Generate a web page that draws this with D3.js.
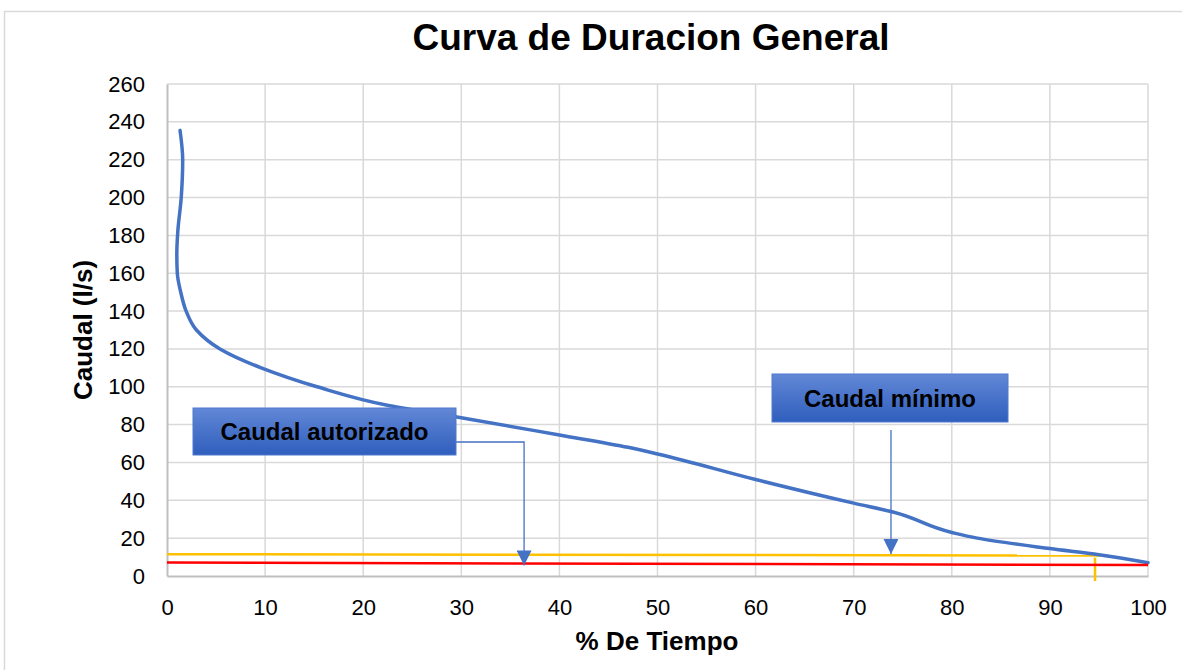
<!DOCTYPE html>
<html>
<head>
<meta charset="utf-8">
<script src="https://cdn.jsdelivr.net/npm/d3@7"></script>
<style>
  body { margin: 0; background: #fff; }
  svg { font-family: Arial, "Liberation Sans", sans-serif; }
</style>
</head>
<body>
<svg id="chart"></svg>
<script>
// data
let flowPct = [1.33, 1.6, 1.45, 1.1, 1.0, 1.05, 1.4, 1.95, 3.0, 5.4, 9.6, 15.3, 22.7, 29.4, 40, 47, 50, 60, 70, 74, 80, 82.6, 90, 95, 100]
let flowQ   = [235.5, 220, 200, 182, 170, 160, 150, 140, 130, 120, 110, 100, 90, 84.2, 74.5, 68, 64.5, 51, 38.5, 33.8, 23, 20, 14.5, 11.2, 7]
let q95Line = [[0, 11.5], [95.1, 10.8]]      // yellow
let authLine = [[0, 7.1], [100, 5.8]]        // red
let q95Mark = 94.6
let xTicks = d3.range(0, 101, 10)
let yTicks = d3.range(0, 261, 20)
let notes = [
  { text: 'Caudal autorizado', target: [36.4, 5.6], box: [193, 408, 263, 47], elbow: true },
  { text: 'Caudal mínimo', target: [73.8, 11.6], box: [772, 374, 236, 48], elbow: false }
]

let svgWidth = 1182, svgHeight = 670
let margin = { left: 167, right: 34, top: 84, bottom: 94 }
let w = svgWidth - margin.left - margin.right, h = svgHeight - margin.top - margin.bottom

let svg = d3.select('#chart').attr('width', svgWidth).attr('height', svgHeight)

// outer chart frame (only top / left show in the picture)
svg.append('rect').attr('x', 4.5).attr('y', 11.5).attr('width', 1200).attr('height', 700)
  .attr('fill', 'none').attr('stroke', '#d9d9d9').attr('stroke-width', 1.5)

let defs = svg.append('defs')
let grad = defs.append('linearGradient').attr('id', 'boxGrad').attr('x1', 0).attr('y1', 0).attr('x2', 0).attr('y2', 1)
grad.append('stop').attr('offset', '0%').attr('stop-color', '#6288d6')
grad.append('stop').attr('offset', '100%').attr('stop-color', '#2f5ebd')
defs.append('marker').attr('id', 'arrow').attr('viewBox', '0 0 10 10')
  .attr('refX', 10).attr('refY', 5).attr('markerWidth', 15).attr('markerHeight', 15)
  .attr('markerUnits', 'userSpaceOnUse').attr('orient', 'auto')
  .append('path').attr('d', 'M0,0 L10,5 L0,10 Z').attr('fill', '#4472c4')

let x = d3.scaleLinear().domain([0, 100]).range([0, w])
let y = d3.scaleLinear().domain([0, 260]).range([h, 0])

let g = svg.append('g').attr('transform', `translate(${margin.left},${margin.top})`)

// grid
g.append('g').selectAll('line').data(yTicks.filter(d => d > 0)).enter().append('line')
  .attr('x1', 0).attr('x2', w).attr('y1', d => y(d)).attr('y2', d => y(d))
  .attr('stroke', '#d9d9d9').attr('stroke-width', 1.5)
g.append('g').selectAll('line').data(xTicks.filter(d => d > 0)).enter().append('line')
  .attr('x1', d => x(d)).attr('x2', d => x(d)).attr('y1', 0).attr('y2', h)
  .attr('stroke', '#d9d9d9').attr('stroke-width', 1.5)

// axes
let xAxis = g.append('g').attr('transform', `translate(0,${h})`)
  .call(d3.axisBottom(x).tickValues(xTicks).tickSize(0))
let yAxis = g.append('g')
  .call(d3.axisLeft(y).tickValues(yTicks).tickSize(0).tickPadding(22))
;[xAxis, yAxis].forEach(a => {
  a.select('.domain').attr('stroke', '#bfbfbf').attr('stroke-width', 2)
  a.selectAll('text').attr('font-size', 22).attr('fill', '#000').style('font-family', 'Arial, "Liberation Sans", sans-serif')
})
xAxis.selectAll('text').attr('dy', '0.35em').attr('y', 31)

// reference lines
let lineGen = d3.line().x(d => x(d[0])).y(d => y(d[1]))
g.append('path').attr('d', lineGen(q95Line)).attr('stroke', '#ffc000').attr('stroke-width', 2.5).attr('fill', 'none')
g.append('line').attr('x1', x(q95Mark)).attr('x2', x(q95Mark)).attr('y1', y(q95Line[1][1]) + 2).attr('y2', h + 5)
  .attr('stroke', '#ffc000').attr('stroke-width', 2.5)

// duration curve (x as a smooth function of the decreasing flow)
let pts = flowPct.map((p, i) => [p, flowQ[i]]).reverse()
let curve = d3.line().x(d => x(d[0])).y(d => y(d[1])).curve(d3.curveMonotoneY)
g.append('path').attr('d', curve(pts)).attr('stroke', '#4472c4').attr('stroke-width', 3.5)
  .attr('fill', 'none').attr('stroke-linecap', 'round')

g.append('path').attr('d', lineGen(authLine)).attr('stroke', '#ff0000').attr('stroke-width', 2.5).attr('fill', 'none')

// callouts
notes.forEach(n => {
  let [bx, by, bw, bh] = n.box
  let tx = x(n.target[0]) + margin.left, ty = y(n.target[1]) + margin.top
  let path = n.elbow
    ? `M${bx + bw},${by + 34} H${tx} V${ty}`
    : `M${tx},${by + bh + 8} V${ty}`
  svg.append('path').attr('d', path).attr('fill', 'none').attr('stroke', '#4472c4').attr('stroke-width', 1.3)
    .attr('marker-end', 'url(#arrow)')
  svg.append('rect').attr('x', bx).attr('y', by).attr('width', bw).attr('height', bh)
    .attr('fill', 'url(#boxGrad)').attr('stroke', '#4f7bd0').attr('stroke-width', 1)
  svg.append('text').attr('x', bx + bw / 2).attr('y', by + bh / 2).attr('dy', '0.36em')
    .attr('text-anchor', 'middle').attr('font-size', 24).attr('font-weight', 'bold').attr('fill', '#000')
    .text(n.text)
})

// titles
svg.append('text').attr('x', 651).attr('y', 50).attr('text-anchor', 'middle')
  .attr('font-size', 37).attr('font-weight', 'bold').text('Curva de Duracion General')
svg.append('text').attr('x', 657).attr('y', 650).attr('text-anchor', 'middle')
  .attr('font-size', 26).attr('font-weight', 'bold').text('% De Tiempo')
svg.append('text').attr('transform', 'translate(92,330) rotate(-90)').attr('text-anchor', 'middle')
  .attr('font-size', 26).attr('font-weight', 'bold').text('Caudal (l/s)')
</script>
</body>
</html>
